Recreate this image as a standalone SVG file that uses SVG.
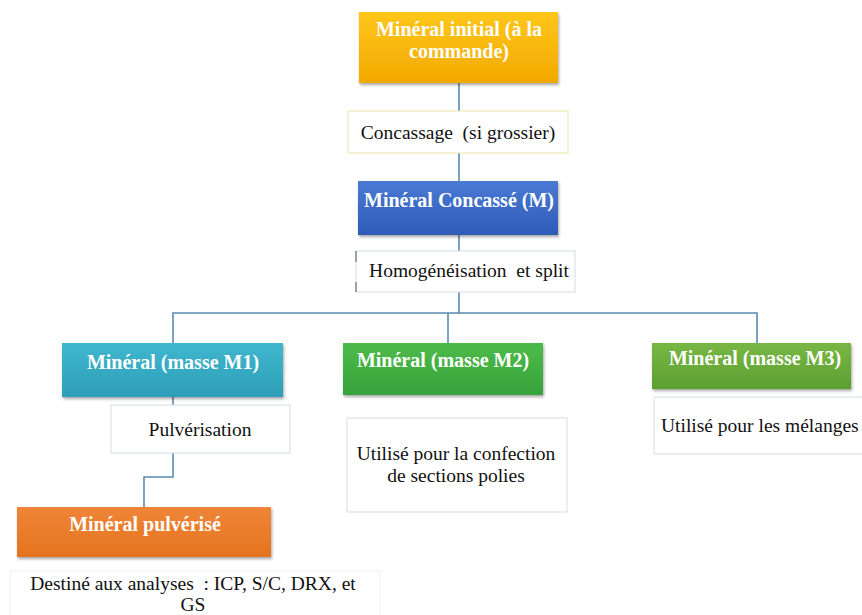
<svg xmlns="http://www.w3.org/2000/svg" width="862" height="615" viewBox="0 0 862 615">
<style>
.t{font-family:"Liberation Serif","Times New Roman",serif;font-size:19.5px;fill:#111}
.h{font-family:"Liberation Serif","Times New Roman",serif;font-size:20px;font-weight:bold;fill:#fff}
.wb{fill:#fff;stroke:#d6dde2;stroke-width:1}
.c{fill:none;stroke:#5a8bb0;stroke-width:1.6}
</style>
<defs>
<filter id="sh" x="-5%" y="-10%" width="115%" height="130%">
<feDropShadow dx="1" dy="2" stdDeviation="1.5" flood-color="#000" flood-opacity="0.35"/>
</filter>
<linearGradient id="gy" x1="0" y1="0" x2="0" y2="1"><stop offset="0" stop-color="#ffc61a"/><stop offset="1" stop-color="#f2a900"/></linearGradient>
<linearGradient id="gb" x1="0" y1="0" x2="0" y2="1"><stop offset="0" stop-color="#4a7ad4"/><stop offset="1" stop-color="#2f5bb8"/></linearGradient>
<linearGradient id="gt" x1="0" y1="0" x2="0" y2="1"><stop offset="0" stop-color="#3fb6cf"/><stop offset="1" stop-color="#2e9fb8"/></linearGradient>
<linearGradient id="gg" x1="0" y1="0" x2="0" y2="1"><stop offset="0" stop-color="#4dbb4a"/><stop offset="1" stop-color="#37a23a"/></linearGradient>
<linearGradient id="gl" x1="0" y1="0" x2="0" y2="1"><stop offset="0" stop-color="#78b745"/><stop offset="1" stop-color="#5c9f30"/></linearGradient>
<linearGradient id="go" x1="0" y1="0" x2="0" y2="1"><stop offset="0" stop-color="#f08538"/><stop offset="1" stop-color="#e4731f"/></linearGradient>
</defs>
<rect width="862" height="615" fill="#fff"/>
<g id="connectors">
<path class="c" d="M459 83V181"/>
<path class="c" d="M459 235V313"/>
<path class="c" d="M173 343V313H757V343"/>
<path class="c" d="M448 313V343"/>
<path class="c" d="M173 397V477H144V507"/>
</g>
<g id="n-initial">
<rect x="359" y="12" width="199" height="71" fill="url(#gy)" filter="url(#sh)"/>
<text class="h" x="459" y="36" text-anchor="middle" fill="#fdf3d6">Minéral initial (à la</text>
<text class="h" x="459" y="58" text-anchor="middle">commande)</text>
</g>
<g id="n-concassage">
<rect x="348" y="111" width="220" height="42" fill="#fff" stroke="#f3e3a8"/>
<text class="t" x="458" y="139" text-anchor="middle" xml:space="preserve">Concassage  (si grossier)</text>
</g>
<g id="n-concasse">
<rect x="358" y="181" width="200" height="54" fill="url(#gb)" filter="url(#sh)"/>
<text class="h" x="459" y="207" text-anchor="middle">Minéral Concassé (M)</text>
</g>
<g id="n-homog">
<rect x="356" y="251" width="219" height="41" class="wb"/>
<path d="M356 251V262M356 282V292" stroke="#555" stroke-width="1"/>
<text class="t" x="469" y="277" text-anchor="middle" xml:space="preserve">Homogénéisation  et split</text>
</g>
<g id="n-m1">
<rect x="62" y="343" width="221" height="54" fill="url(#gt)" filter="url(#sh)"/>
<text class="h" x="173" y="369" text-anchor="middle" fill="#eaf8fb">Minéral (masse M1)</text>
</g>
<g id="n-pulv">
<rect x="111" y="405" width="179" height="48" class="wb"/>
<text class="t" x="200" y="436" text-anchor="middle">Pulvérisation</text>
</g>
<g id="n-m2">
<rect x="343" y="343" width="200" height="52" fill="url(#gg)" filter="url(#sh)"/>
<text class="h" x="443" y="367" text-anchor="middle" fill="#eef8ea">Minéral (masse M2)</text>
</g>
<g id="n-m2use">
<rect x="347" y="418" width="220" height="94" class="wb"/>
<text class="t" x="456" y="460" text-anchor="middle">Utilisé pour la confection</text>
<text class="t" x="456" y="482" text-anchor="middle">de sections polies</text>
</g>
<g id="n-m3">
<rect x="652" y="343" width="199" height="46" fill="url(#gl)" filter="url(#sh)"/>
<text class="h" x="755" y="365" text-anchor="middle" fill="#eef8ea">Minéral (masse M3)</text>
</g>
<g id="n-m3use">
<rect x="654" y="397" width="215" height="57" class="wb"/>
<text class="t" x="661" y="432">Utilisé pour les mélanges</text>
</g>
<g id="n-pulverise">
<rect x="17" y="507" width="254" height="50" fill="url(#go)" filter="url(#sh)"/>
<text class="h" x="145" y="531" text-anchor="middle" fill="#fbeedd">Minéral pulvérisé</text>
</g>
<g id="n-dest">
<rect x="10" y="571" width="370" height="50" fill="#fff" stroke="#eceff1"/>
<text class="t" x="193" y="590" text-anchor="middle" xml:space="preserve">Destiné aux analyses  : ICP, S/C, DRX, et</text>
<text class="t" x="193" y="611" text-anchor="middle">GS</text>
</g>
</svg>
